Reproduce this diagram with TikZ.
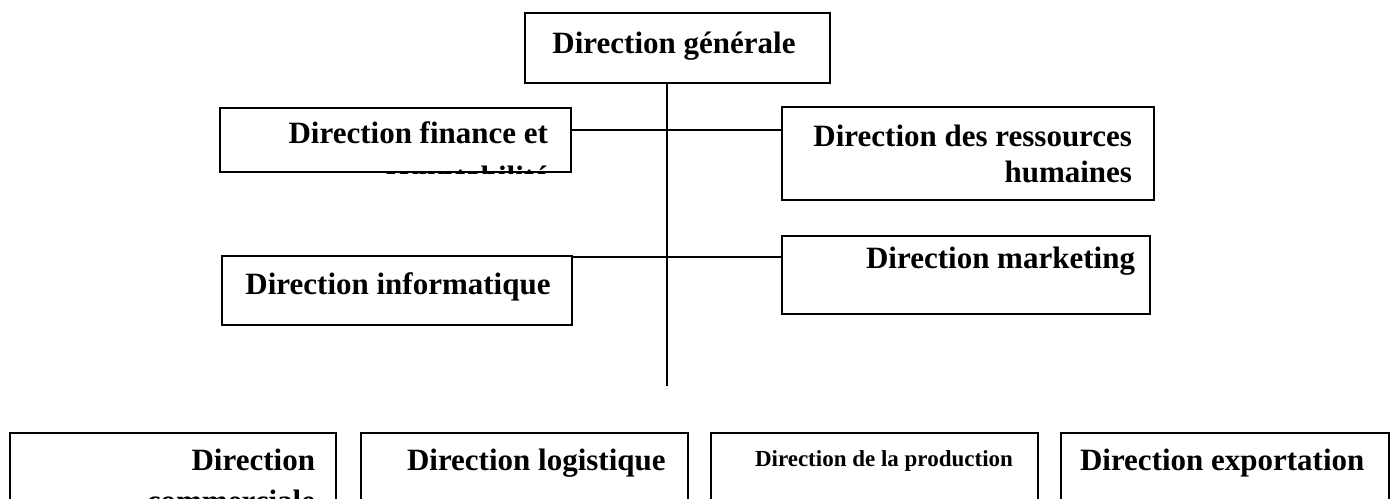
\documentclass[tikz,border=0pt]{standalone}
\usepackage{fontspec}
\setmainfont{Liberation Serif}

\begin{document}
\begin{tikzpicture}[x=0.5pt, y=-0.5pt, line width=1pt,
    dir box/.style={rectangle, draw, inner sep=0pt, anchor=north west},
    dir text/.style={font=\fontsize{15.5}{18}\selectfont\bfseries, inner sep=0pt},
    small text/.style={font=\fontsize{11.5}{14}\selectfont\bfseries, inner sep=0pt}]

    \useasboundingbox (0,0) rectangle (1391,498);

    \node[dir box, minimum width=152.5pt, minimum height=35pt] (gen) at (524,12) {};
    \node[dir box, minimum width=175.5pt, minimum height=32pt] (fin) at (219,107) {};
    \node[dir box, minimum width=186pt, minimum height=46.5pt] (hr) at (781,106) {};
    \node[dir box, minimum width=175pt, minimum height=34.5pt] (inf) at (221,255) {};
    \node[dir box, minimum width=184pt, minimum height=39pt] (mkt) at (781,235) {};

    \node[dir box, minimum width=163pt, minimum height=44pt] (com) at (9,432) {};
    \node[dir box, minimum width=163.5pt, minimum height=44pt] (log) at (360,432) {};
    \node[dir box, minimum width=163.5pt, minimum height=44pt] (prod) at (710,432) {};
    \node[dir box, minimum width=164pt, minimum height=44pt] (exp) at (1060,432) {};

    % texts
    \node[dir text, anchor=base] (genT) at (674,53) {Direction générale};
    \node[dir text, anchor=base east] (finA) at (549,143) {Direction finance et};
    \begin{scope}
        \clip (fin.north west) rectangle (fin.south east);
        \node[dir text, anchor=base east] (finB) at (549,187) {comptabilité};
    \end{scope}
    \node[dir text, anchor=base east] (hrA) at (1133,146) {Direction des ressources};
    \node[dir text, anchor=base east] (hrB) at (1133,182) {humaines};
    \node[dir text, anchor=base] (infT) at (398,294) {Direction informatique};
    \node[dir text, anchor=base east] (mktT) at (1136,268) {Direction marketing};

    \node[dir text, anchor=base east] (comA) at (316,470) {Direction};
    \node[dir text, anchor=base east] (comB) at (316,511) {commerciale};
    \node[dir text, anchor=base west] (logT) at (406,470) {Direction logistique};
    \node[small text, anchor=base west] (prodT) at (754,466) {Direction de la production};
    \node[dir text, anchor=base west] (expT) at (1079,470) {Direction exportation};

    % connectors
    \coordinate (end) at (667,386);
    \draw (gen.south -| end) -- (end);
    \draw ([yshift=5pt]fin.east) -- ([yshift=5pt]fin.east -| hr.west);
    \draw ([yshift=-1pt]inf.north east) -- ([yshift=-1pt]inf.north east -| mkt.west);
\end{tikzpicture}
\end{document}
